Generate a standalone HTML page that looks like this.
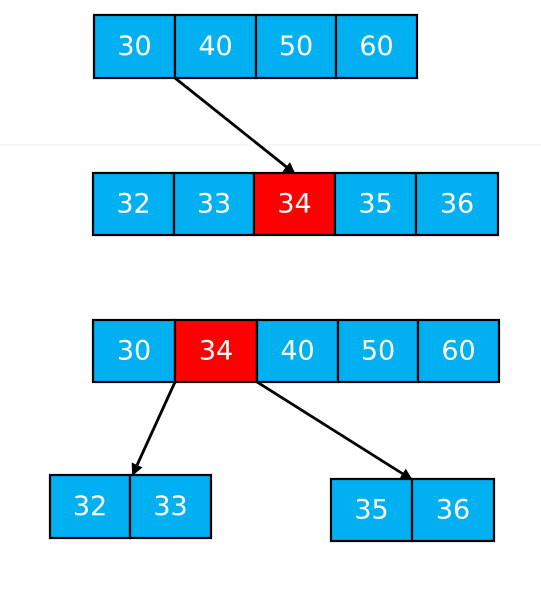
<!DOCTYPE html>
<html><head><meta charset="utf-8"><style>
html,body{margin:0;padding:0;background:#fff;width:541px;height:594px;overflow:hidden}
svg{display:block}
text{font-family:"DejaVu Sans","Liberation Sans",sans-serif;font-size:27px;fill:#fff;text-anchor:middle;dominant-baseline:central}
</style></head><body>
<svg width="541" height="594">
<defs><marker id="ah" markerWidth="12" markerHeight="12" refX="10" refY="6" orient="auto" markerUnits="userSpaceOnUse"><path d="M0,0 L12,6 L0,12 z" fill="#000"/></marker></defs>
<line x1="0" y1="145" x2="541" y2="145" stroke="#f2f2f2" stroke-width="1"/>
<g id="nodes"></g>
<line x1="175" y1="78" x2="294" y2="173" stroke="#000" stroke-width="2.8" marker-end="url(#ah)"/>
<line x1="175" y1="382" x2="133" y2="474" stroke="#000" stroke-width="2.8" marker-end="url(#ah)"/>
<line x1="257" y1="382" x2="411" y2="479" stroke="#000" stroke-width="2.8" marker-end="url(#ah)"/>
</svg>
<script>
const rows=[
 {name:'root-node-before',y:15,h:63,edges:[94,175,256,336,417],vals:['30','40','50','60'],red:-1},
 {name:'leaf-node-before',y:173,h:62,edges:[93,174,254,335,416,498],vals:['32','33','34','35','36'],red:2},
 {name:'root-node-after',y:320,h:62,edges:[93,175,257,338,418,499],vals:['30','34','40','50','60'],red:1},
 {name:'left-child-node',y:475,h:63,edges:[50,130,211],vals:['32','33'],red:-1},
 {name:'right-child-node',y:479,h:62,edges:[331,412,494],vals:['35','36'],red:-1}
];
const ns='http://www.w3.org/2000/svg',g=document.getElementById('nodes');
rows.forEach(r=>{
 const grp=document.createElementNS(ns,'g');
 
 
 r.vals.forEach((v,i)=>{
  const x=r.edges[i],w=r.edges[i+1]-x;
  const c=document.createElementNS(ns,'g');
  
  
  const rc=document.createElementNS(ns,'rect');
  rc.setAttribute('x',x);rc.setAttribute('y',r.y);rc.setAttribute('width',w);rc.setAttribute('height',r.h);
  rc.setAttribute('fill',i===r.red?'#ff0000':'#00b0f0');rc.setAttribute('stroke','#000');rc.setAttribute('stroke-width','2.2');
  const t=document.createElementNS(ns,'text');
  t.setAttribute('x',x+w/2);t.setAttribute('y',r.y+r.h/2);t.textContent=v;
  c.appendChild(rc);c.appendChild(t);grp.appendChild(c);
 });
 g.appendChild(grp);
});
</script>
</body></html>
